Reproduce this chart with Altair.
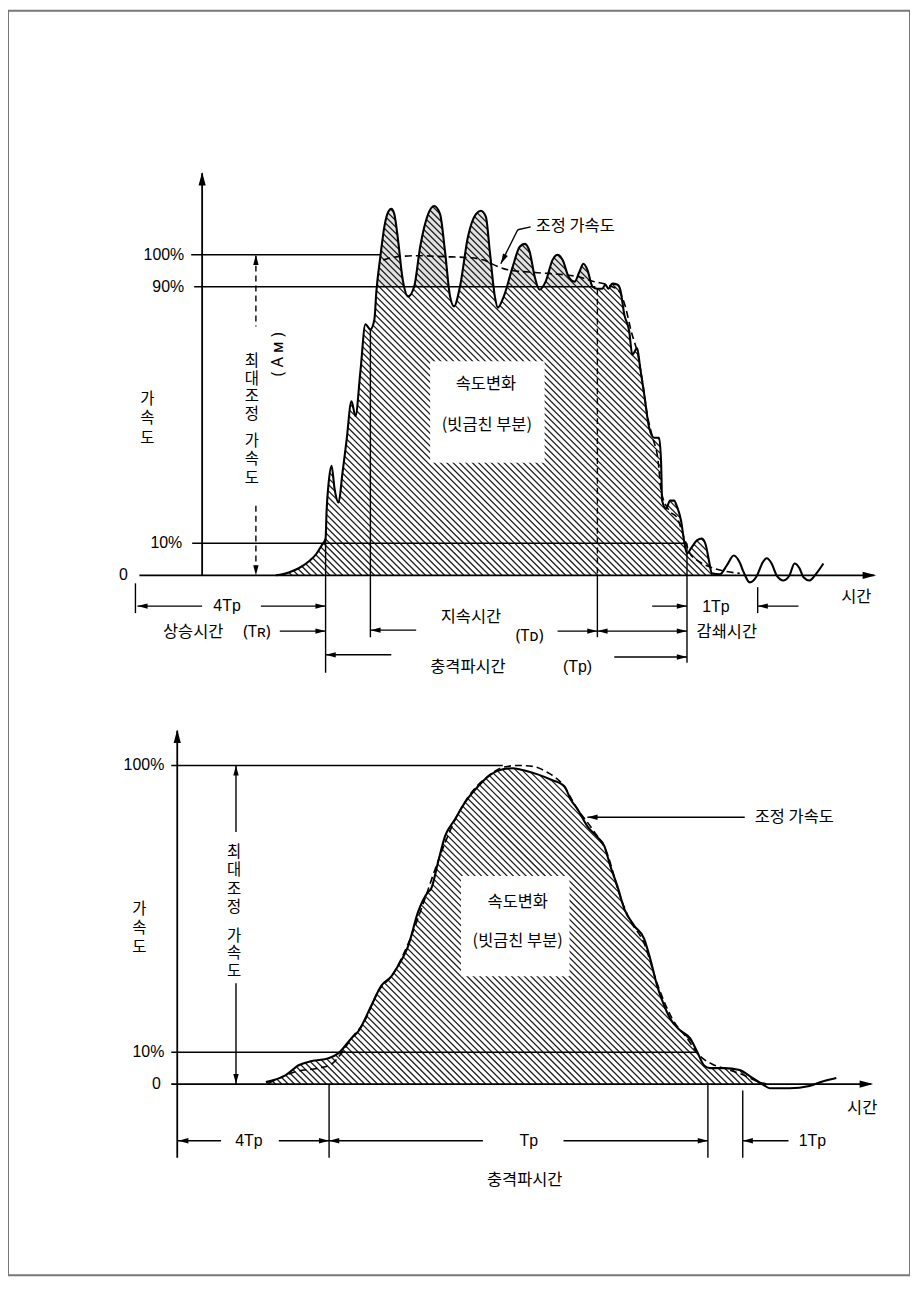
import altair as alt
import pandas as pd

KR = "Noto Sans CJK KR"
LAT = "Liberation Sans"
SYM = "Noto Sans"

# ================= TOP PANEL : pulse with ringing =================
top_x_domain = [-39.0, 142.2]
top_y_domain = [-218.32, 176.09]

top_curve_t = [14.8, 17.4, 19.4, 21.4, 23.0, 24.0, 24.8, 25.0, 25.4, 26.0,
               26.6, 27.4, 28.2, 29.0, 30.0, 30.8, 31.8, 32.8, 33.8, 34.6,
               35.0, 35.8, 36.6, 37.4, 38.0, 38.6, 39.4, 40.2, 41.4, 42.6,
               43.8, 45.4, 46.6, 47.8, 48.8, 49.8, 50.6, 51.8, 53.4, 55.0,
               56.0, 57.0, 57.8, 58.8, 59.4, 60.6, 62.4, 63.8, 64.8, 65.8,
               66.8, 67.8, 69.0, 70.4, 71.4, 72.4, 73.6, 74.8, 75.8, 76.6,
               77.4, 78.4, 79.4, 80.4, 81.0, 81.6, 82.4, 83.4, 84.0, 84.8,
               85.8, 86.4, 87.4, 88.0, 88.8, 89.8, 90.8, 91.8, 92.2, 92.4,
               93.2, 94.0, 94.8, 95.4, 96.2, 96.8, 97.4, 98.2, 99.4, 100.4,
               101.2, 101.8, 102.4, 104.0, 105.4, 106.8, 108.0, 108.8, 110.0, 111.4,
               112.6, 113.4, 114.4, 115.4, 116.8, 118.0, 119.0, 120.0, 120.8, 122.0,
               123.4, 124.8]
top_curve_a = [0.0, 0.9, 2.2, 4.3, 6.8, 9.3, 11.5, 20.0, 28.6, 34.2,
               27.0, 22.7, 32.0, 41.9, 54.3, 49.7, 63.7, 78.3, 76.7, 79.8,
               88.5, 99.4, 108.7, 113.4, 114.3, 112.7, 104.0, 93.2, 87.0, 90.1,
               102.5, 112.7, 115.2, 112.7, 100.9, 87.0, 83.9, 90.1, 105.6, 112.7,
               113.7, 111.8, 100.9, 87.0, 83.5, 87.0, 96.3, 102.5, 103.4, 100.9,
               93.2, 89.1, 91.6, 98.4, 100.0, 98.4, 93.2, 91.6, 94.7, 97.2,
               95.3, 90.1, 89.4, 89.4, 90.7, 89.4, 91.0, 90.7, 89.1, 81.4,
               76.1, 68.9, 70.8, 64.6, 56.5, 46.0, 42.9, 42.9, 35.1, 23.3,
               20.8, 23.3, 23.3, 21.4, 17.1, 10.9, 6.8, 8.4, 10.9, 11.5,
               9.3, 4.7, 0.6, 0.3, 3.1, 6.2, 4.0, 0.9, -2.2, -0.3,
               4.0, 5.3, 3.7, 0.0, -1.6, 0.0, 3.7, 2.2, -0.6, -1.6,
               0.6, 3.7]

top_fit_t = [36.4, 39.4, 43.4, 48.4, 53.4, 56.4, 59.4, 61.4, 67.4, 72.4,
             75.4, 78.8, 81.8, 83.8, 85.0, 86.2, 87.6, 88.6, 89.4, 90.4,
             91.6, 92.2, 93.8, 95.4, 96.8, 98.0, 99.4, 100.8, 103.4, 108.0]
top_fit_a = [98.4, 99.4, 99.7, 99.4, 99.1, 98.4, 96.3, 95.3, 94.4, 93.8,
             93.2, 91.6, 90.4, 88.5, 83.9, 76.1, 68.3, 59.0, 50.3, 43.5,
             35.7, 26.4, 20.2, 18.0, 11.8, 6.8, 4.7, 3.4, 1.9, 0.6]

top_axis_segs = [(-12.6, 0, 135.0, 0), (0, 0, 0, 125.4)]
top_axis_heads = [(135.4, 0, "R"), (0, 125.8, "U")]
top_solid_segs = [
    (-2.2, 100, 35.8, 100), (-1.6, 90, 79.0, 90), (-2.0, 10, 97.4, 10),
    (24.8, 11.5, 24.8, -30.4), (33.8, 76.7, 33.8, -19.3), (79.4, 0, 79.4, -19.3),
    (97.4, 10, 97.4, -27.3), (111.6, -3.7, 111.6, -11.8), (-13.4, -2.5, -13.4, -11.8),
    (-13.0, -9.6, 0.0, -9.6), (11.8, -9.6, 24.8, -9.6), (15.6, -17.4, 24.8, -17.4),
    (33.8, -17.1, 43.0, -17.1), (71.4, -17.4, 97.4, -17.4),
    (90.4, -9.6, 97.4, -9.6), (111.6, -9.6, 119.8, -9.6),
    (24.8, -24.8, 38.0, -24.8), (82.8, -25.5, 97.4, -25.5),
    (66.0, 108.7, 63.4, 107.8), (63.4, 107.8, 60.0, 97.2),
]
top_dash_segs = [(79.4, 89.4, 79.4, 0), (10.8, 99.7, 10.8, 77.6), (10.8, 21.7, 10.8, 0.3)]
top_heads = [(-13.0, -9.6, "L"), (24.8, -9.6, "R"), (24.8, -17.4, "R"), (33.8, -17.1, "L"),
             (79.4, -17.4, "R"), (79.4, -17.4, "L"), (97.4, -17.4, "R"), (97.4, -9.6, "R"),
             (111.6, -9.6, "L"), (24.8, -24.8, "L"), (97.4, -25.5, "R"),
             (10.8, 100, "U"), (10.8, 0, "D")]
top_leader_heads = [(60.0, 97.2, "D")]

top_hatch_box = (14.8, 102.4, 0.0, 116.0)
top_stipple = [(35.0, 90.0, 84.0, 116.0)]
top_label_box = [(45.8, 35.1, 68.8, 66.8)]

top_kr_center = [("속도변화", 57.0, 59.6), ("(빗금친 부분)", 57.2, 46.9), ("상승시간", -1.8, -17.7),
                 ("지속시간", 54.0, -13.0), ("감쇄시간", 105.4, -17.7), ("충격파시간", 53.4, -28.6),
                 ("시간", 131.4, -6.8)]
top_kr_left = [("조정 가속도", 67.0, 109.0)]
# vertical (stacked) labels: position is that of the first character
top_stack1 = [("가\n속\n도", -11.0, 55.0)]
top_stack2 = [("최\n대\n조\n정", 10.0, 66.8)]
top_stack3 = [("가\n속\n도", 10.0, 41.9)]
top_num_right = [("100%", -3.6, 100), ("90%", -3.6, 90), ("10%", -4.0, 10)]
top_num_center = [("0", -15.8, 0), ("4Tp", 5.0, -9.6), ("1Tp", 103.2, -9.9), ("(Tp)", 75.4, -28.6)]
top_sym = [("(Tʀ)", 11.0, -17.7), ("(Tᴅ)", 65.8, -18.9)]
top_rot = [("( A ᴍ )", 15.2, 68.9)]

# ================= BOTTOM PANEL : smooth pulse =================
bot_x_domain = [-34.0, 147.2]
bot_y_domain = [-60.0, 336.875]

bot_curve_t = [17.8, 21.8, 24.4, 27.0, 30.4, 32.4, 35.0, 36.4, 39.0, 41.0,
               43.0, 44.4, 46.4, 48.4, 50.4, 51.0, 52.4, 53.8, 55.8, 57.8,
               60.4, 63.0, 65.4, 67.4, 69.8, 72.4, 75.0, 77.8, 79.0, 80.4,
               82.4, 84.4, 85.8, 87.0, 88.4, 89.8, 91.8, 93.8, 95.0, 96.4,
               97.8, 99.0, 101.0, 103.0, 104.4, 105.8, 107.0, 109.8, 113.0, 115.0,
               117.8, 119.0, 123.0, 127.0, 129.8, 132.4]
bot_curve_a = [0.6, 2.8, 5.9, 7.2, 8.1, 9.7, 14.4, 16.6, 24.7, 30.9,
               33.8, 37.2, 43.4, 54.1, 60.3, 61.3, 69.7, 77.8, 83.1, 88.4,
               93.4, 97.2, 98.8, 99.1, 98.4, 97.2, 95.6, 93.4, 89.4, 86.3,
               80.9, 77.5, 74.7, 68.4, 62.2, 55.0, 49.7, 45.6, 39.4, 30.9,
               24.7, 20.6, 16.9, 14.4, 10.3, 5.9, 5.0, 5.0, 4.4, 2.5,
               -0.3, -1.3, -1.3, -0.6, 0.9, 1.9]

bot_fit_t = [18.4, 24.4, 28.4, 31.0, 33.0, 35.0, 37.4, 40.4, 43.4, 46.4,
             49.4, 52.4, 55.4, 58.4, 62.4, 65.4, 68.4, 71.4, 74.4, 77.4,
             80.4, 83.4, 86.4, 88.8, 90.8, 93.8, 96.4, 99.4, 102.4, 105.0,
             107.4, 110.4, 113.8, 116.4, 118.4]
bot_fit_a = [0.3, 4.1, 5.0, 6.3, 9.7, 14.4, 19.1, 29.1, 34.7, 44.1,
             56.6, 70.0, 81.6, 90.0, 96.6, 99.4, 100.0, 99.7, 97.8, 94.1,
             86.3, 80.0, 72.2, 59.7, 51.9, 44.1, 31.6, 20.6, 14.4, 8.8,
             6.3, 4.7, 2.8, 0.9, 0.0]

bot_axis_segs = [(-1.2, 0, 139.4, 0), (0, -23.1, 0, 110.9)]
bot_axis_heads = [(139.8, 0, "R"), (0, 111.3, "U")]
bot_solid_segs = [
    (-1.2, 100, 65.4, 100), (-1.2, 10, 104.4, 10),
    (30.5, 0, 30.5, -23.1), (106.6, 0, 106.6, -23.1), (113.6, -2.0, 113.6, -23.1),
    (0.0, -17.8, 8.8, -17.8), (20.4, -17.8, 30.5, -17.8), (30.5, -17.8, 61.4, -17.8),
    (77.6, -17.8, 106.6, -17.8), (113.6, -17.8, 122.8, -17.8),
    (11.8, 100, 11.8, 79.1), (11.8, 31.6, 11.8, 0),
    (82.4, 83.75, 114.0, 83.75),
]
bot_heads = [(0.2, -17.8, "L"), (30.5, -17.8, "R"), (30.5, -17.8, "L"), (106.6, -17.8, "R"),
             (113.6, -17.8, "L"), (11.8, 100, "U"), (11.8, 0, "D"), (82.4, 83.75, "L")]

bot_hatch_box = (17.8, 118.0, 0.0, 100.5)
bot_label_box = [(57.0, 33.8, 78.8, 65.3)]

bot_kr_center = [("속도변화", 68.4, 57.2), ("(빗금친 부분)", 68.4, 45.0), ("충격파시간", 69.8, -30.0),
                 ("시간", 137.6, -7.5)]
bot_kr_left = [("조정 가속도", 116.0, 83.75)]
bot_stack1 = [("가\n속\n도", -7.6, 55.0)]
bot_stack2 = [("최\n대\n조\n정", 11.4, 72.8)]
bot_stack3 = [("가\n속\n도", 11.4, 46.6)]
bot_num_right = [("100%", -2.6, 100), ("10%", -2.6, 10)]
bot_num_center = [("0", -4.2, 0), ("4Tp", 14.4, -17.8), ("Tp", 70.6, -17.8), ("1Tp", 127.6, -17.8)]

# ================= helpers =================
HEAD_PATH = {
    "L": "M0,0L3.4,-0.9L3.4,0.9Z",
    "R": "M0,0L-3.4,-0.9L-3.4,0.9Z",
    "U": "M0,0L-0.9,3.4L0.9,3.4Z",
    "D": "M0,0L-0.9,-3.4L0.9,-3.4Z",
}


def xy(xd, yd):
    return {
        "x": alt.X("t:Q", scale=alt.Scale(domain=xd, nice=False, zero=False), axis=None),
        "y": alt.Y("a:Q", scale=alt.Scale(domain=yd, nice=False, zero=False), axis=None),
    }


def seg_layer(segs, xd, yd, **kw):
    df = pd.DataFrame(segs, columns=["t", "a", "t2", "a2"])
    return alt.Chart(df).mark_rule(**kw).encode(**xy(xd, yd), x2="t2:Q", y2="a2:Q")


def rect_layer(rects, xd, yd, color):
    df = pd.DataFrame(rects, columns=["t", "a", "t2", "a2"])
    return alt.Chart(df).mark_rect(color=color, opacity=1).encode(**xy(xd, yd), x2="t2:Q", y2="a2:Q")


def head_layer(rows, xd, yd, size, angle=0):
    df = pd.DataFrame([{"t": t, "a": a, "shape": HEAD_PATH[d]} for t, a, d in rows])
    return alt.Chart(df).mark_point(filled=True, color="black", opacity=1, size=size,
                                    angle=angle, strokeWidth=0).encode(
        **xy(xd, yd), shape=alt.Shape("shape:N", scale=None))


def text_layer(rows, xd, yd, **kw):
    df = pd.DataFrame(rows, columns=["label", "t", "a"])
    return alt.Chart(df).mark_text(color="black", baseline="middle", **kw).encode(
        **xy(xd, yd), text="label:N")


def hatch_layer(box, xd, yd, kx, ky, step):
    # diagonal texture lines (styling only), clipped to the box
    t0, t1, a0, a1 = box
    rows = []
    c = kx * t0 + ky * a0 + step / 2
    cmax = kx * t1 + ky * a1
    while c < cmax:
        ta = max(t0, (c - ky * a1) / kx)
        tb = min(t1, (c - ky * a0) / kx)
        if tb > ta:
            rows.append((ta, (c - kx * ta) / ky, tb, (c - kx * tb) / ky))
        c += step
    return seg_layer(rows, xd, yd, color="#1a1a1a", strokeWidth=1.25)


def panel(xd, yd, kx, ky, curve_t, curve_a, fit_t, fit_a, hatch_box, mask_top,
          stipple, label_box, axis_segs, axis_heads, solid_segs, dash_segs, heads,
          leader_heads, kr_center, kr_left, stacks, num_right, num_center, sym, rot):
    cdf = pd.DataFrame({"t": curve_t, "a": curve_a})
    # white mask above the curve (hides the texture outside the pulse)
    mdf = pd.DataFrame({"t": [curve_t[0] - 5] + curve_t, "a": [0.0] + curve_a})
    mdf["top"] = mask_top
    fdf = pd.DataFrame({"t": fit_t, "a": fit_a})
    layers = []
    if stipple:
        layers.append(rect_layer(stipple, xd, yd, "#e2e2e2"))
    layers.append(hatch_layer(hatch_box, xd, yd, kx, ky, 6.4))
    layers.append(alt.Chart(mdf).mark_area(color="white", opacity=1, interpolate="monotone").encode(
        **xy(xd, yd), y2="top:Q"))
    layers.append(rect_layer(label_box, xd, yd, "white"))
    layers.append(seg_layer(solid_segs, xd, yd, color="black", strokeWidth=1.4))
    if dash_segs:
        layers.append(seg_layer(dash_segs, xd, yd, color="black", strokeWidth=1.4, strokeDash=[6, 4]))
    layers.append(alt.Chart(cdf).mark_line(color="black", strokeWidth=2.1, interpolate="monotone").encode(
        **xy(xd, yd)))
    layers.append(alt.Chart(fdf).mark_line(color="black", strokeWidth=1.6, strokeDash=[7, 4],
                                           interpolate="monotone").encode(**xy(xd, yd)))
    layers.append(seg_layer(axis_segs, xd, yd, color="black", strokeWidth=1.8))
    layers.append(head_layer(axis_heads, xd, yd, 64))
    layers.append(head_layer(heads, xd, yd, 36))
    if leader_heads:
        layers.append(head_layer(leader_heads, xd, yd, 36, angle=27))
    layers.append(text_layer(kr_center, xd, yd, font=KR, fontSize=16.5, align="center"))
    layers.append(text_layer(kr_left, xd, yd, font=KR, fontSize=16.5, align="left"))
    for rows, lh in stacks:
        layers.append(text_layer(rows, xd, yd, font=KR, fontSize=15.5, align="center",
                                 lineBreak="\n", lineHeight=lh))
    layers.append(text_layer(num_right, xd, yd, font=LAT, fontSize=16, align="right"))
    layers.append(text_layer(num_center, xd, yd, font=LAT, fontSize=16, align="center"))
    if sym:
        layers.append(text_layer(sym, xd, yd, font=SYM, fontSize=16, align="center"))
    if rot:
        layers.append(text_layer(rot, xd, yd, font=SYM, fontSize=16, align="center", angle=270))
    return layers


top_layers = panel(top_x_domain, top_y_domain, 5.0, 3.22, top_curve_t, top_curve_a, top_fit_t, top_fit_a,
                   top_hatch_box, 120.0, top_stipple, top_label_box, top_axis_segs, top_axis_heads,
                   top_solid_segs, top_dash_segs, top_heads, top_leader_heads,
                   top_kr_center, top_kr_left,
                   [(top_stack1, 19.5), (top_stack2, 17.7), (top_stack3, 18.5)],
                   top_num_right, top_num_center, top_sym, top_rot)

bot_layers = panel(bot_x_domain, bot_y_domain, 5.0, 3.2, bot_curve_t, bot_curve_a, bot_fit_t, bot_fit_a,
                   bot_hatch_box, 105.0, [], bot_label_box, bot_axis_segs, bot_axis_heads,
                   bot_solid_segs, [], bot_heads, [],
                   bot_kr_center, bot_kr_left,
                   [(bot_stack1, 19), (bot_stack2, 18.3), (bot_stack3, 18)],
                   bot_num_right, bot_num_center, [], [])

chart = (
    alt.layer(*top_layers, *bot_layers)
    .resolve_scale(x="independent", y="independent")
    .properties(width=906, height=1270, padding=0, background="white")
    .configure_view(stroke="#777777", strokeWidth=2)
)

chart.save("out.html", embed_options={"renderer": "svg", "actions": False})
